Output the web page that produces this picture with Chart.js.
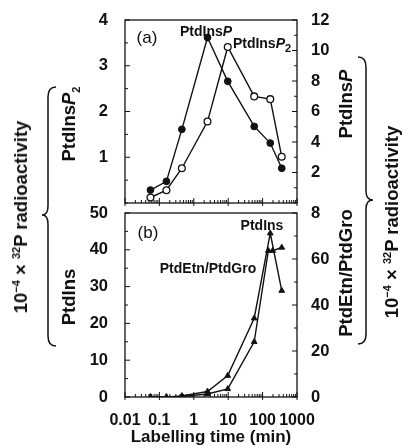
<!DOCTYPE html>
<html><head><meta charset="utf-8">
<script src="https://cdn.jsdelivr.net/npm/chart.js@4.4.0/dist/chart.umd.min.js"></script>
<style>
html,body{margin:0;padding:0;background:#fff;}
#wrap{position:relative;width:411px;height:448px;overflow:hidden;font-family:"Liberation Sans",Arial,sans-serif;color:#111;background:#fff;}
canvas{position:absolute;left:0;top:0;}
.rot{position:absolute;white-space:nowrap;transform:translate(-50%,-50%) rotate(-90deg);font-weight:bold;font-size:18.5px;line-height:20px;}
.lbl{position:absolute;white-space:nowrap;font-size:14px;font-weight:bold;transform:translate(-50%,-50%);line-height:16px;}
sup,sub{font-size:11px;line-height:0;}
</style></head><body>
<div id="wrap">
<canvas id="ca" width="411" height="448"></canvas>
<canvas id="cb" width="411" height="448"></canvas>
<div class="lbl" style="left:147px;top:38px;font-weight:normal;font-size:17px;">(a)</div>
<div class="lbl" style="left:206px;top:31px;">PtdIns<i>P</i></div>
<div class="lbl" style="left:262px;top:43px;">PtdIns<i>P</i><sub>2</sub></div>
<div class="lbl" style="left:148px;top:233px;font-weight:normal;font-size:17px;">(b)</div>
<div class="lbl" style="left:262px;top:225px;">PtdIns</div>
<div class="lbl" style="left:208px;top:268px;">PtdEtn/PtdGro</div>
<div class="rot" style="left:21px;top:217px;">10<sup>−4</sup> × <sup>32</sup>P radioactivity</div>
<div class="rot" style="left:69px;top:124px;">PtdIns<i>P</i><sub>2</sub></div>
<div class="rot" style="left:69px;top:297px;">PtdIns</div>
<div class="rot" style="left:346px;top:104px;">PtdIns<i>P</i></div>
<div class="rot" style="left:346px;top:273px;">PtdEtn/PtdGro</div>
<div class="rot" style="left:392px;top:222px;">10<sup>−4</sup> × <sup>32</sup>P radioactivity</div>
</div>
<script>
// ---- data ----
const timesA = [0.055, 0.16, 0.45, 2.5, 9.7, 57, 167, 360];
const ptdInsP = [0.85, 1.42, 4.83, 10.85, 7.98, 5.02, 3.93, 2.28];   // right axis (a)
const ptdInsP2 = [0.12, 0.28, 0.76, 1.78, 3.41, 2.33, 2.27, 1.01];   // left axis (a)
const timesIns = [0.055, 0.16, 0.45, 2.5, 9.7, 57, 167, 360];
const ptdIns = [0, 0, 0.3, 1.5, 5.8, 21.4, 44.5, 28.9];              // left axis (b)
const timesEtn = [0.055, 0.16, 0.45, 2.5, 9.7, 57, 147, 196, 360];
const ptdEtnGro = [0, 0, 0.2, 1.3, 3.5, 24, 63.6, 63.6, 65];        // right axis (b)

const xMajor = [0.01, 0.1, 1, 10, 100, 1000];
const xMajorLabels = ['0.01', '0.1', '1', '10', '100', '1000'];
const yALeftLabels = [1, 2, 3, 4];
const yARightLabels = [2, 4, 6, 8, 10, 12];
const yBLeftLabels = [0, 10, 20, 30, 40, 50];
const yBRightLabels = [0, 20, 40, 60, 80];
const yBRightText = ['0', '20', '40', '60', '8'];

const INK = '#111';
const FONT = "'Liberation Sans', Arial, sans-serif";

function pts(xs, ys) { return xs.map((x, i) => ({x: x, y: ys[i]})); }

function xTickValues() {
  const out = [];
  for (let e = -2; e <= 2; e++) {
    for (let m = 1; m <= 9; m++) out.push(+(m * Math.pow(10, e)).toPrecision(3));
  }
  out.push(1000);
  return out;
}

function linTicks(min, max, step) {
  const out = [];
  for (let v = min; v <= max + 1e-9; v += step) out.push(+v.toFixed(4));
  return out;
}

const frameTicks = {
  id: 'frameTicks',
  afterDraw(chart) {
    const ctx = chart.ctx, a = chart.chartArea;
    ctx.save();
    ctx.strokeStyle = INK;
    ctx.lineWidth = 1.3;
    ctx.strokeRect(a.left, a.top, a.right - a.left, a.bottom - a.top);
    ctx.lineWidth = 1;
    for (const id in chart.scales) {
      const s = chart.scales[id];
      const majors = s.options.majorVals || [];
      s.ticks.forEach(t => {
        const isMaj = majors.some(m => Math.abs(m - t.value) < 1e-9 * Math.max(1, Math.abs(m)));
        const len = isMaj ? 5 : 3;
        const p = s.getPixelForValue(t.value);
        ctx.beginPath();
        if (s.axis === 'x') {
          ctx.moveTo(p, a.bottom); ctx.lineTo(p, a.bottom - len);
          if (isMaj && s.options.crossTicks) { ctx.moveTo(p, a.bottom); ctx.lineTo(p, a.bottom + 3); }
        } else if (s.position === 'left') {
          ctx.moveTo(a.left, p); ctx.lineTo(a.left + len, p);
        } else {
          ctx.moveTo(a.right, p); ctx.lineTo(a.right - len, p);
        }
        ctx.stroke();
      });
    }
    ctx.restore();
  }
};

const braces = {
  id: 'braces',
  afterDraw(chart) {
    const ctx = chart.ctx;
    ctx.save();
    ctx.strokeStyle = INK;
    ctx.lineWidth = 1.5;
    // left brace, tip pointing left
    ctx.beginPath();
    ctx.moveTo(56, 87);
    ctx.quadraticCurveTo(48, 87, 48, 97);
    ctx.lineTo(48, 206);
    ctx.quadraticCurveTo(48, 215, 42, 215);
    ctx.quadraticCurveTo(48, 215, 48, 224);
    ctx.lineTo(48, 336);
    ctx.quadraticCurveTo(48, 346, 56, 346);
    ctx.stroke();
    // right brace, tip pointing right
    ctx.beginPath();
    ctx.moveTo(358, 57);
    ctx.quadraticCurveTo(366, 57, 366, 67);
    ctx.lineTo(366, 191);
    ctx.quadraticCurveTo(366, 200, 373, 200);
    ctx.quadraticCurveTo(366, 200, 366, 209);
    ctx.lineTo(366, 334);
    ctx.quadraticCurveTo(366, 344, 358, 344);
    ctx.stroke();
    ctx.restore();
  }
};

function xScale(showLabels) {
  return {
    type: 'logarithmic', min: 0.01, max: 1000, position: 'bottom',
    majorVals: xMajor, crossTicks: true,
    grid: {display: false}, border: {display: false},
    afterBuildTicks: s => { s.ticks = xTickValues().map(v => ({value: v})); },
    afterFit: s => { s.height = showLabels ? 51 : 0; },
    ticks: {
      display: showLabels, autoSkip: false, maxRotation: 0, minRotation: 0, padding: 6,
      color: INK, font: {family: FONT, size: 16, weight: 'bold'},
      callback: v => { const i = xMajor.findIndex(m => Math.abs(m - v) < 1e-9 * m); return i >= 0 ? xMajorLabels[i] : ''; }
    },
    title: showLabels ? {display: true, text: 'Labelling time (min)', color: INK, padding: 0,
      font: {family: FONT, size: 17, weight: 'bold'}} : {display: false}
  };
}

function yScale(pos, min, max, step, labelVals, labelTexts, width) {
  return {
    type: 'linear', position: pos, min: min, max: max,
    majorVals: labelVals,
    grid: {display: false}, border: {display: false},
    afterBuildTicks: s => { s.ticks = linTicks(min, max, step).map(v => ({value: v})); },
    afterFit: s => { s.width = width; },
    ticks: {
      autoSkip: false, padding: pos === 'left' ? 9 : 6, color: INK,
      font: {family: FONT, size: 16.5, weight: 'bold'},
      callback: v => { const i = labelVals.findIndex(m => Math.abs(m - v) < 1e-9); return i >= 0 ? (labelTexts ? labelTexts[i] : String(labelVals[i])) : ''; }
    }
  };
}

const common = {
  responsive: false, animation: false, devicePixelRatio: 1,
  plugins: {legend: {display: false}, tooltip: {enabled: false}},
};

new Chart(document.getElementById('ca'), {
  type: 'line',
  data: {
    datasets: [
      {data: pts(timesA, ptdInsP), yAxisID: 'yR', borderColor: INK, borderWidth: 1.4,
       pointRadius: 3.4, pointBackgroundColor: INK, pointBorderColor: INK, pointBorderWidth: 1, tension: 0},
      {data: pts(timesA, ptdInsP2), yAxisID: 'yL', borderColor: INK, borderWidth: 1.4,
       pointRadius: 3.4, pointBackgroundColor: '#fff', pointBorderColor: INK, pointBorderWidth: 1.3, tension: 0}
    ]
  },
  options: Object.assign({}, common, {
    layout: {padding: {top: 20, bottom: 245, left: 0, right: 0}},
    scales: {
      x: xScale(false),
      yL: yScale('left', 0, 4, 0.5, yALeftLabels, null, 125),
      yR: yScale('right', 0, 12, 1, yARightLabels, null, 114)
    }
  }),
  plugins: [frameTicks]
});

new Chart(document.getElementById('cb'), {
  type: 'line',
  data: {
    datasets: [
      {data: pts(timesIns, ptdIns), yAxisID: 'yL', borderColor: INK, borderWidth: 1.4,
       pointStyle: 'triangle', pointRadius: 3.3, pointBackgroundColor: INK, pointBorderColor: INK, pointBorderWidth: 1, tension: 0},
      {data: pts(timesEtn, ptdEtnGro), yAxisID: 'yR', borderColor: INK, borderWidth: 1.4,
       pointStyle: 'triangle', pointRadius: 3.3, pointBackgroundColor: INK, pointBorderColor: INK, pointBorderWidth: 1, tension: 0}
    ]
  },
  options: Object.assign({}, common, {
    layout: {padding: {top: 213, bottom: 0, left: 0, right: 0}},
    scales: {
      x: xScale(true),
      yL: yScale('left', 0, 50, 5, yBLeftLabels, null, 125),
      yR: yScale('right', 0, 80, 10, yBRightLabels, yBRightText, 114)
    }
  }),
  plugins: [frameTicks, braces]
});
</script>
</body></html>
